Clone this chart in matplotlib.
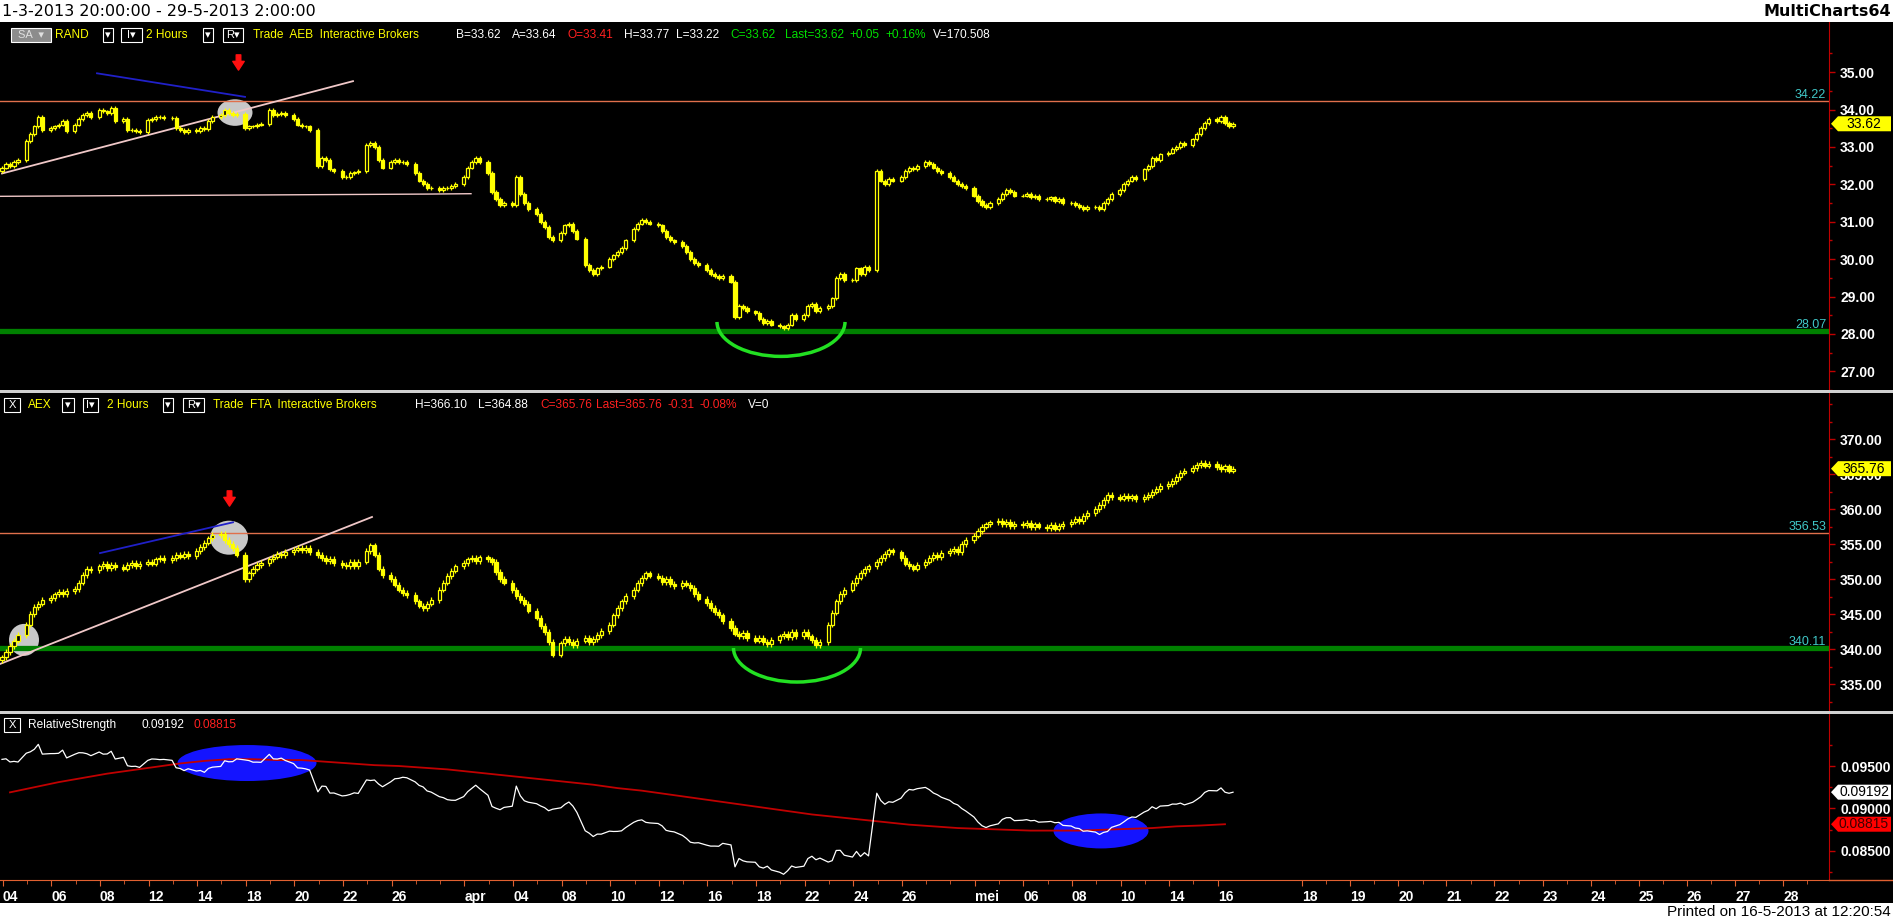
import numpy as np
import matplotlib
matplotlib.use('Agg')
import matplotlib.pyplot as plt
from matplotlib.patches import Ellipse, Arc, Rectangle, Polygon
from matplotlib.path import Path
from matplotlib.transforms import blended_transform_factory

# ---------------------------------------------------------------- data
# trading days on the chart (2-hour bars, 5 bars per day)
march = [4, 5, 6, 7, 8, 11, 12, 13, 14, 15, 18, 19, 20, 21, 22, 25, 26, 27, 28]
april = [2, 3, 4, 5, 8, 9, 10, 11, 12, 15, 16, 17, 18, 19, 22, 23, 24, 25, 26, 29, 30]
may = [2, 3, 6, 7, 8, 9, 10, 13, 14, 15, 16]

# RAND (Randstad, AEB) closes of every 2-hour bar
rand_first_open = 32.35
rand_close = [
    32.45, 32.55, 32.50, 32.60, 32.65,   # mar 4
    33.15, 33.35, 33.55, 33.80, 33.45,
    33.50, 33.55, 33.60, 33.70, 33.42,
    33.60, 33.75, 33.85, 33.90, 33.80,
    34.00, 33.95, 33.90, 34.05, 33.70,
    33.75, 33.45, 33.45, 33.42, 33.40,   # mar 11
    33.72, 33.75, 33.80, 33.80, 33.78,
    33.77, 33.50, 33.45, 33.40, 33.45,
    33.42, 33.50, 33.48, 33.70, 33.80,
    33.85, 34.00, 33.90, 33.85, 33.88,
    33.50, 33.55, 33.55, 33.60, 33.62,   # mar 18
    34.00, 33.85, 33.88, 33.90, 33.85,
    33.75, 33.60, 33.55, 33.55, 33.45,
    32.50, 32.70, 32.65, 32.40, 32.35,
    32.20, 32.20, 32.30, 32.32, 32.35,
    33.05, 33.10, 33.00, 32.65, 32.45,   # mar 25
    32.60, 32.65, 32.60, 32.60, 32.55,
    32.30, 32.10, 32.00, 31.90, 31.90,
    31.85, 31.90, 31.90, 31.95, 32.00,
    32.20, 32.45, 32.60, 32.70, 32.60,   # apr 2
    32.30, 31.80, 31.60, 31.45, 31.50,
    31.45, 32.20, 31.75, 31.50, 31.35,
    31.20, 31.00, 30.85, 30.60, 30.50,
    30.70, 30.90, 30.95, 30.75, 30.55,   # apr 8
    29.85, 29.70, 29.60, 29.75, 29.80,
    30.00, 30.10, 30.20, 30.30, 30.50,
    30.80, 30.95, 31.05, 31.00, 30.95,
    30.90, 30.75, 30.60, 30.50, 30.45,
    30.35, 30.20, 30.00, 29.90, 29.85,   # apr 15
    29.70, 29.60, 29.55, 29.50, 29.55,
    29.40, 28.45, 28.75, 28.70, 28.60,
    28.55, 28.40, 28.30, 28.35, 28.25,
    28.20, 28.15, 28.25, 28.50, 28.40,
    28.50, 28.75, 28.80, 28.60, 28.70,   # apr 22
    28.75, 28.95, 29.50, 29.60, 29.45,
    29.45, 29.75, 29.60, 29.80, 29.70,
    32.35, 32.10, 32.00, 32.15, 32.10,
    32.20, 32.35, 32.45, 32.40, 32.50,
    32.60, 32.55, 32.45, 32.35, 32.30,   # apr 29
    32.20, 32.10, 32.00, 31.95, 31.90,
    31.70, 31.55, 31.45, 31.40, 31.50,   # may 2
    31.60, 31.75, 31.85, 31.80, 31.70,
    31.70, 31.75, 31.65, 31.70, 31.60,   # may 6
    31.60, 31.65, 31.55, 31.60, 31.50,
    31.50, 31.45, 31.40, 31.35, 31.40,
    31.40, 31.35, 31.50, 31.60, 31.75,
    31.85, 32.00, 32.10, 32.20, 32.15,
    32.40, 32.50, 32.70, 32.65, 32.80,   # may 13
    32.85, 32.95, 33.00, 33.10, 33.05,
    33.20, 33.35, 33.50, 33.65, 33.75,
    33.70, 33.80, 33.65, 33.55, 33.62,
]

# AEX index closes of every 2-hour bar
aex_first_open = 338.4
aex_close = [
    338.8, 339.6, 340.4, 341.2, 342.0,   # mar 4
    343.5, 345.0, 346.0, 346.5, 347.0,
    347.3, 347.8, 348.2, 347.9, 348.3,
    348.6, 349.5, 350.6, 351.5, 351.3,
    351.8, 352.2, 351.6, 352.0, 351.7,
    351.5, 352.0, 352.3, 351.9, 352.2,   # mar 11
    352.5, 352.2, 352.8, 353.0, 352.7,
    353.0, 353.4, 353.2, 353.6, 353.3,
    354.0, 354.6, 355.2, 355.8, 356.3,
    356.5, 355.6, 355.0, 354.4, 353.5,
    350.0, 350.8, 351.5, 352.0, 352.3,   # mar 18
    352.8, 353.2, 353.6, 353.4, 353.9,
    354.2, 354.5, 354.1, 354.4, 353.9,
    353.4, 353.0, 352.6, 352.9, 352.3,
    352.0, 351.8, 352.4, 351.9, 352.5,
    354.0, 354.8, 353.5, 351.5, 350.6,   # mar 25
    350.0, 349.2, 348.5, 348.0, 347.7,
    346.8, 346.2, 345.8, 346.5, 347.0,
    348.5, 349.5, 350.4, 351.2, 351.8,
    352.3, 352.8, 353.0, 352.6, 353.1,   # apr 2
    352.8, 352.4, 351.0, 350.0, 349.5,
    348.4, 347.6, 347.0, 346.5, 345.5,
    344.5, 343.3, 342.4, 341.0, 339.2,
    340.8, 341.5, 341.0, 340.6, 341.2,   # apr 8
    341.6, 341.0, 341.4, 342.0, 342.6,
    343.5, 344.8, 345.9, 346.8, 347.6,
    348.5, 349.4, 350.2, 350.8, 350.5,
    350.2, 349.6, 350.0, 349.3, 349.0,
    349.5, 349.2, 348.7, 347.9, 347.2,   # apr 15
    346.6, 345.9, 345.3, 344.8, 344.0,
    343.0, 342.2, 341.8, 342.3, 341.6,
    341.2, 341.6, 341.0, 340.7, 341.3,
    341.8, 342.2, 341.7, 342.4, 341.9,
    342.5, 341.8, 341.3, 340.6, 341.0,   # apr 22
    343.5, 345.2, 346.8, 347.9, 348.5,
    349.4, 350.2, 350.9, 351.4, 351.8,
    352.4, 353.0, 353.6, 354.1, 353.8,
    353.0, 352.2, 351.8, 351.5, 352.0,
    352.5, 353.0, 353.4, 353.1, 353.7,   # apr 29
    354.0, 354.3, 353.9, 355.0, 355.6,
    356.2, 356.9, 357.5, 357.8, 358.1,   # may 2
    358.3, 357.9, 358.2, 357.6, 357.9,
    357.7, 358.0, 357.4, 357.8, 357.5,   # may 6
    357.3, 357.7, 357.2, 357.6, 357.9,
    358.2, 358.6, 358.3, 359.0, 359.4,
    360.0, 360.6, 361.3, 362.0, 361.7,
    361.5, 361.9, 361.6, 361.8, 361.4,
    361.7, 362.0, 362.5, 362.9, 363.3,   # may 13
    363.6, 364.0, 364.6, 365.2, 365.5,
    365.9, 366.3, 366.6, 366.2, 366.4,
    366.0, 365.7, 366.1, 365.5, 365.76,
]

# red average line of the relative strength, one reading per trading day
rs_average = [
    0.0919, 0.0925, 0.0931, 0.0936, 0.0941, 0.0945, 0.0949, 0.0953, 0.0956, 0.0958,
    0.0958, 0.0957, 0.0957, 0.0955, 0.0953, 0.0951, 0.0950, 0.0948, 0.0946, 0.0943,
    0.0940, 0.0937, 0.0934, 0.0931, 0.0928, 0.0924, 0.0921, 0.0917, 0.0913, 0.0909,
    0.0905, 0.0901, 0.0897, 0.0893, 0.0890, 0.0887, 0.0884, 0.0881, 0.0879, 0.0877,
    0.0876, 0.0875, 0.0874, 0.0874, 0.0874, 0.0875, 0.0876, 0.0877, 0.0879, 0.0880,
    0.08815,
]

# x axis labels (trading day index for history, calendar day for the future part)
hist_labels = ['04', '06', '08', '12', '14', '18', '20', '22', '26', 'apr', '04', '08', '10',
               '12', '16', '18', '22', '24', '26', 'mei', '06', '08', '10', '14', '16']
hist_label_days = [0, 2, 4, 6, 8, 10, 12, 14, 16, 19, 21, 23, 25, 27, 29, 31, 33, 35, 37,
                   40, 42, 44, 46, 48, 50]
future_days = [18, 19, 20, 21, 22, 23, 24, 25, 26, 27, 28]

# ---------------------------------------------------------------- layout helpers
W, H = 1893, 922
PX_DAY = 24.3            # pixels per trading day
AX_RIGHT = 1829
bar_step = 0.165         # one 2-hour bar in day units
YEL = '#ffff00'
FONT = ['Liberation Sans', 'DejaVu Sans']

n_days = len(march) + len(april) + len(may)
day_idx = np.repeat(np.arange(n_days), 5)
bar_x = day_idx + (np.tile(np.arange(5), n_days) - 2) * bar_step

fig = plt.figure(figsize=(W / 100, H / 100), dpi=100, facecolor='black')


def rect(x0, y0, x1, y1):
    return [x0 / W, 1 - y1 / H, (x1 - x0) / W, (y1 - y0) / H]


def fx(x):
    return x / W


def fy(y):
    return 1 - y / H


xlim = (-10 / PX_DAY, (AX_RIGHT - 10) / PX_DAY)
ax1 = fig.add_axes(rect(0, 22, AX_RIGHT, 390))
ax2 = fig.add_axes(rect(0, 393, AX_RIGHT, 711))
ax3 = fig.add_axes(rect(0, 714, AX_RIGHT, 880))
ax1.set_ylim(28 - 51 / 38, 28 + 317 / 38)
ax2.set_ylim(340 - 62 / 7, 340 + 256 / 7)
ax3.set_ylim(0.095 - 114 / 8500, 0.095 + 52 / 8500)

for ax in (ax1, ax2, ax3):
    ax.set_facecolor('black')
    ax.set_xlim(*xlim)
    for s in ('top', 'left', 'bottom'):
        ax.spines[s].set_visible(False)
    ax.spines['right'].set_color('#c00000')
    ax.yaxis.tick_right()
    ax.tick_params(axis='y', which='both', colors='#c00000', labelcolor='white',
                   length=4, width=1, pad=4, labelsize=10)
    ax.tick_params(axis='y', which='minor', length=2)
    ax.tick_params(axis='x', which='both', bottom=False, labelbottom=False)

ax1.set_yticks(np.arange(27, 36, 1.0))
ax1.set_yticks(np.arange(26.5, 36, 0.5), minor=True)
ax1.set_yticklabels(['%.2f' % v for v in np.arange(27, 36, 1.0)], family=FONT, weight='bold')
ax2.set_yticks(np.arange(335, 371, 5.0))
ax2.set_yticks(np.arange(332.5, 376, 2.5), minor=True)
ax2.set_yticklabels(['%.2f' % v for v in np.arange(335, 371, 5.0)], family=FONT, weight='bold')
ax3.set_yticks([0.085, 0.090, 0.095])
ax3.set_yticks([0.0825, 0.0875, 0.0925, 0.0975], minor=True)
ax3.set_yticklabels(['0.08500', '0.09000', '0.09500'], family=FONT, weight='bold')


def candles(ax, first_open, closes, wick):
    c = np.array(closes)
    o = np.concatenate([[first_open], c[:-1]])
    hi = np.maximum(o, c) + wick
    lo = np.minimum(o, c) - wick
    ax.vlines(bar_x, lo, hi, color=YEL, lw=0.9, zorder=3)
    up = c >= o
    ax.bar(bar_x[up], (c - o)[up], bottom=o[up], width=0.13, facecolor='black',
           edgecolor=YEL, lw=0.9, zorder=4)
    ax.bar(bar_x[~up], (o - c)[~up], bottom=c[~up], width=0.13, facecolor=YEL,
           edgecolor=YEL, lw=0.9, zorder=4)


def to_u(px):
    return (px - 10) / PX_DAY


# down arrow marker
arrow = Path([(-0.3, 1), (0.3, 1), (0.3, 0.15), (0.75, 0.15), (0, -1), (-0.75, 0.15),
              (-0.3, 0.15), (-0.3, 1)], closed=True)

lbl_tr1 = blended_transform_factory(ax1.transAxes, ax1.transData)
lbl_tr2 = blended_transform_factory(ax2.transAxes, ax2.transData)

# ---------------------------------------------------------------- panel 1 : RAND
candles(ax1, rand_first_open, rand_close, 0.05)
ax1.axhline(34.22, color='#e0704c', lw=1, zorder=2)
ax1.axhline(28.07, color='#008000', lw=3.8, zorder=2)
ax1.text(0.9985, 34.22, '34.22', transform=lbl_tr1, ha='right', va='bottom',
         color='#40c8c8', fontsize=9, family=FONT)
ax1.text(0.9985, 28.07, '28.07', transform=lbl_tr1, ha='right', va='bottom',
         color='#40c8c8', fontsize=9, family=FONT)
ax1.plot([to_u(2), to_u(353)], [32.29, 34.76], color='#f0c8c8', lw=1.3, zorder=2)
ax1.plot([to_u(97), to_u(245)], [34.97, 34.34], color='#2020c8', lw=1.3, zorder=2)
ax1.plot([to_u(0), to_u(428), to_u(471)], [31.68, 31.74, 31.75], color='#f0c8c8', lw=1, zorder=2)
ax1.add_patch(Ellipse((to_u(235), 33.92), 35 / PX_DAY, 27 / 38, fc='#c8c8c8', ec='none', zorder=1))
ax1.plot([to_u(238)], [35.26], marker=arrow, ms=11, color='#ff1010', zorder=6)
ax1.add_patch(Arc((to_u(781), 28.32), 128 / PX_DAY, 70 / 38, theta1=180, theta2=360,
                  color='#22e022', lw=2.5, zorder=5))

# ---------------------------------------------------------------- panel 2 : AEX
candles(ax2, aex_first_open, aex_close, 0.4)
ax2.axhline(356.53, color='#e0704c', lw=1, zorder=2)
ax2.axhline(340.11, color='#008000', lw=3.8, zorder=2)
ax2.text(0.9985, 356.53, '356.53', transform=lbl_tr2, ha='right', va='bottom',
         color='#40c8c8', fontsize=9, family=FONT)
ax2.text(0.9985, 340.11, '340.11', transform=lbl_tr2, ha='right', va='bottom',
         color='#40c8c8', fontsize=9, family=FONT)
ax2.plot([to_u(0), to_u(372)], [337.86, 358.86], color='#f0c8c8', lw=1.3, zorder=2)
ax2.plot([to_u(100), to_u(233)], [353.7, 358.1], color='#2020c8', lw=1.3, zorder=2)
ax2.add_patch(Ellipse((to_u(229), 355.9), 38 / PX_DAY, 34 / 7, fc='#c8c8c8', ec='none', zorder=1))
ax2.add_patch(Ellipse((to_u(24), 341.3), 30 / PX_DAY, 32 / 7, fc='#c8c8c8', ec='none', zorder=1))
ax2.plot([to_u(229)], [361.6], marker=arrow, ms=11, color='#ff1010', zorder=6)
ax2.add_patch(Arc((to_u(797), 340.14), 127 / PX_DAY, 68 / 7, theta1=180, theta2=360,
                  color='#22e022', lw=2.5, zorder=5))

# ---------------------------------------------------------------- panel 3 : relative strength
rs = np.array(rand_close) / np.array(aex_close)
ax3.add_patch(Ellipse((to_u(247), 0.09535), 139 / PX_DAY, 36 / 8500, fc='#1414ff', ec='none', zorder=1))
ax3.add_patch(Ellipse((to_u(1101), 0.08736), 95 / PX_DAY, 35 / 8500, fc='#1414ff', ec='none', zorder=1))
ax3.plot(bar_x, rs, color='white', lw=0.9, zorder=3)
ax3.plot(np.arange(n_days), rs_average, color='#c00000', lw=1.3, zorder=2)

# x axis
future_pos = [n_days - 1 + (d - 16) * 12 * bar_step - 0.79 for d in future_days]
tick_pos = [d - 0.3 for d in hist_label_days] + future_pos
tick_lbl = hist_labels + ['%d' % d for d in future_days]
ax3.spines['bottom'].set_visible(True)
ax3.spines['bottom'].set_color('#e06030')
ax3.set_xticks(tick_pos)
ax3.set_xticks([d - 0.3 for d in range(n_days)] +
               [p + 1.0 for p in future_pos], minor=True)
ax3.set_xticklabels(tick_lbl, family=FONT, weight='bold')
ax3.tick_params(axis='x', which='both', bottom=True, labelbottom=True, colors='#e06030',
                labelcolor='white', length=4, pad=3, labelsize=10)
ax3.tick_params(axis='x', which='minor', length=3)
for lbl in ax3.get_xticklabels():
    lbl.set_ha('left')
fig.add_artist(plt.Line2D([fx(AX_RIGHT), 1], [fy(880), fy(880)], color='#e06030', lw=1))

# ---------------------------------------------------------------- frame, bars, headers
fig.add_artist(Rectangle((0, fy(22)), 1, 22 / H, transform=fig.transFigure, fc='white', ec='none'))
fig.add_artist(Rectangle((0, 0), 1, 19 / H, transform=fig.transFigure, fc='white', ec='none'))
for yd in (390, 711):
    fig.add_artist(Rectangle((0, fy(yd + 3)), 1, 3 / H, transform=fig.transFigure,
                             fc='#d0d0d0', ec='none'))
fig.text(fx(2), fy(11), '1-3-2013 20:00:00 - 29-5-2013 2:00:00', fontsize=11.5,
         family='DejaVu Sans', va='center', color='black')
fig.text(fx(1891), fy(11), 'MultiCharts64', fontsize=11.5, family='DejaVu Sans',
         weight='bold', va='center', ha='right', color='black')
fig.text(fx(1891), fy(912), 'Printed on 16-5-2013 at 12:20:54', fontsize=11,
         family=FONT, va='center', ha='right', color='black')


def htext(x, y, s, color):
    fig.text(fx(x), fy(y), s, color=color, fontsize=8.6, family=FONT, va='center', ha='left')


def hbox(x0, x1, y, s, fc='black', tc='white'):
    fig.add_artist(Rectangle((fx(x0), fy(y + 7)), (x1 - x0) / W, 14 / H, transform=fig.transFigure,
                             fc=fc, ec='white', lw=0.8))
    fig.text(fx((x0 + x1) / 2), fy(y), s, color=tc, fontsize=8, family=FONT,
             va='center', ha='center')


RED, GRN = '#ff2020', '#00e000'
y = 35
hbox(11, 51, y, 'SA  \u25be', fc='#8c8c8c', tc='#e0e0e0')
htext(55, y, 'RAND', YEL)
hbox(103, 113, y, '\u25be')
hbox(121, 142, y, 'I\u25be')
htext(146, y, '2 Hours', YEL)
hbox(203, 213, y, '\u25be')
hbox(223, 243, y, 'R\u25be')
htext(253, y, 'Trade  AEB  Interactive Brokers', YEL)
for x, s, c in [(456, 'B=33.62', 'white'), (512, 'A=33.64', 'white'), (568, 'O=33.41', RED),
                (624, 'H=33.77', 'white'), (676, 'L=33.22', 'white'), (730, 'C=33.62', GRN),
                (785, 'Last=33.62', GRN), (849, '+0.05', GRN), (885, '+0.16%', GRN),
                (933, 'V=170.508', 'white')]:
    htext(x, y, s, c)

y = 405
hbox(4, 20, y, 'X')
htext(28, y, 'AEX', YEL)
hbox(62, 74, y, '\u25be')
hbox(83, 98, y, 'I\u25be')
htext(107, y, '2 Hours', YEL)
hbox(163, 173, y, '\u25be')
hbox(183, 204, y, 'R\u25be')
htext(213, y, 'Trade  FTA  Interactive Brokers', YEL)
for x, s, c in [(415, 'H=366.10', 'white'), (478, 'L=364.88', 'white'), (540, 'C=365.76', RED),
                (596, 'Last=365.76', RED), (667, '-0.31', RED), (700, '-0.08%', RED),
                (748, 'V=0', 'white')]:
    htext(x, y, s, c)

y = 725
hbox(4, 20, y, 'X')
htext(28, y, 'RelativeStrength', 'white')
htext(141, y, '0.09192', 'white')
htext(194, y, '0.08815', RED)


# price tags on the right scale
def tag(ax, value, fc, tc, text):
    yd = ax.transData.transform((0, value))[1]
    pts = [(1831, yd), (1838, yd + 7.5), (1891, yd + 7.5), (1891, yd - 7.5), (1838, yd - 7.5)]
    fig.add_artist(Polygon([(px / W, py / H) for px, py in pts], closed=True,
                           transform=fig.transFigure, fc=fc, ec='none', zorder=5))
    fig.text(1864 / W, yd / H, text, color=tc, fontsize=10, family=FONT,
             va='center', ha='center', zorder=6)


tag(ax1, rand_close[-1], YEL, 'black', '%.2f' % rand_close[-1])
tag(ax2, aex_close[-1], YEL, 'black', '%.2f' % aex_close[-1])
tag(ax3, 0.09192, 'white', 'black', '0.09192')
tag(ax3, rs_average[-1], '#ff0000', '#400000', '%.5f' % rs_average[-1])

fig.savefig('out.png', dpi=100, facecolor='black')
